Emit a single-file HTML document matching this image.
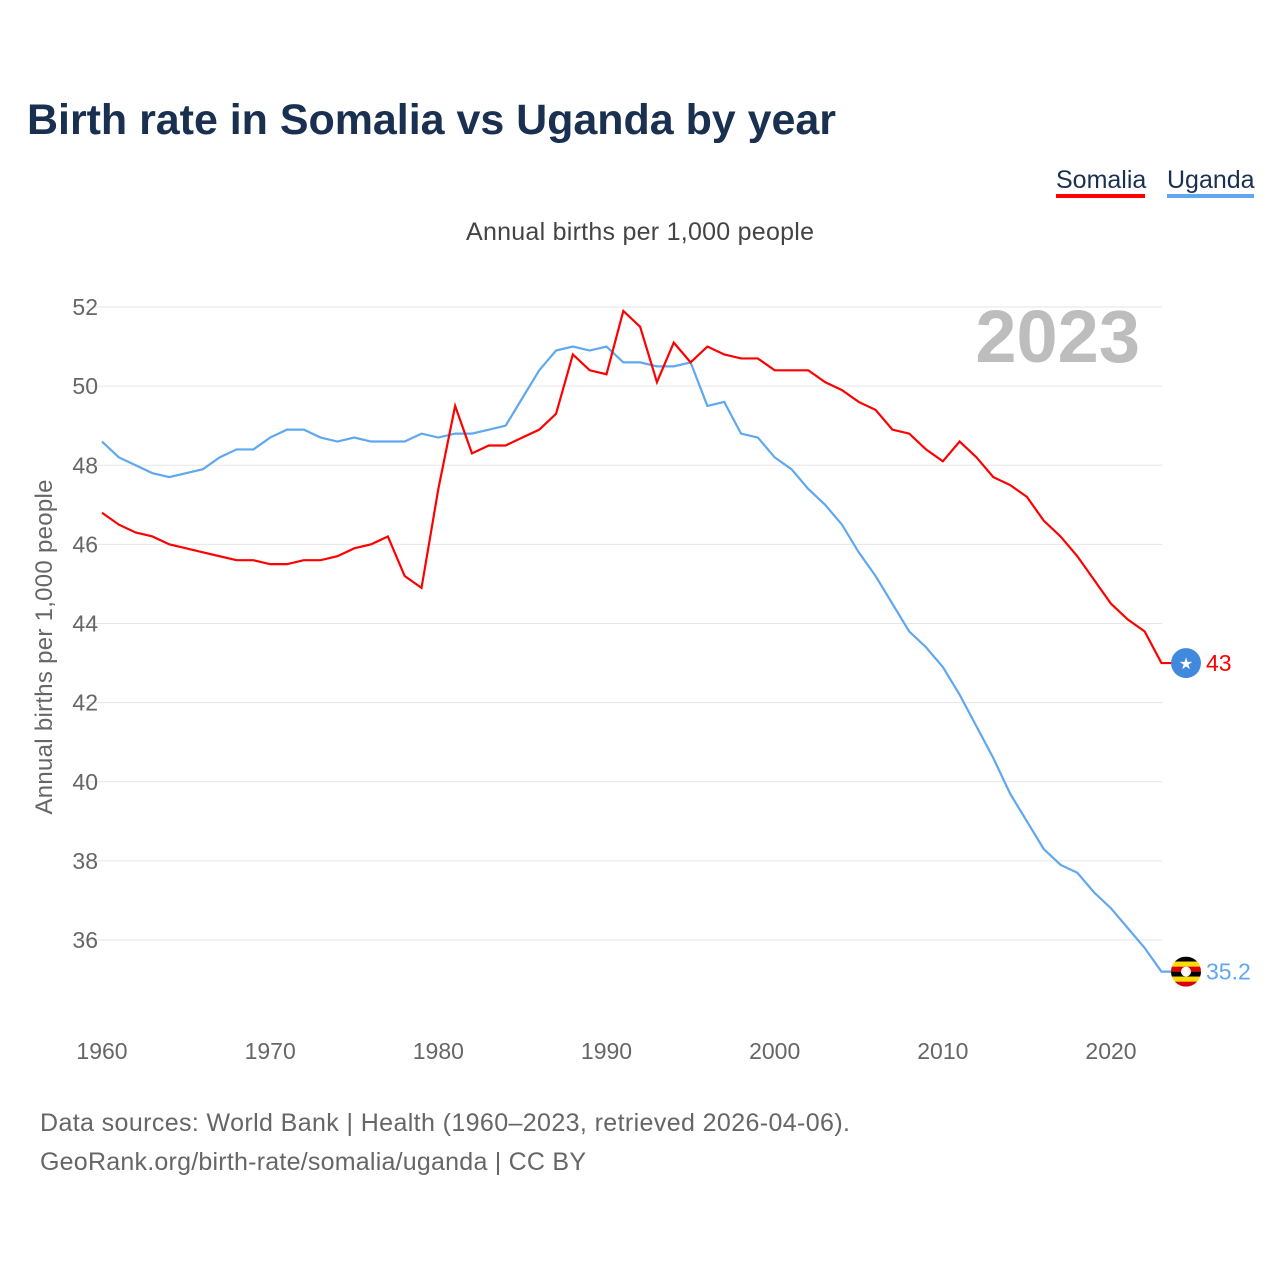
<!DOCTYPE html>
<html><head><meta charset="utf-8"><style>
body{margin:0;width:1280px;height:1280px;background:#fff;font-family:"Liberation Sans",sans-serif;overflow:hidden}
</style></head><body>
<svg id="chart" width="1280" height="1280" style="position:absolute;left:0;top:0">
<text x="27" y="134" font-size="43" font-weight="bold" fill="#1a3050" textLength="809">Birth rate in Somalia vs Uganda by year</text>
<g>
<text x="1056" y="188" font-size="25" fill="#1a3050">Somalia</text>
<rect x="1056" y="194" width="89" height="4" fill="#ff0000"/>
<text x="1167" y="188" font-size="25" fill="#1a3050">Uganda</text>
<rect x="1167" y="194" width="87" height="4" fill="#5fa8f0"/>
</g>
<text x="640" y="240" font-size="25" fill="#444" text-anchor="middle" textLength="348">Annual births per 1,000 people</text>
<text x="1140" y="362" font-size="74" font-weight="bold" fill="#bdbdbd" text-anchor="end">2023</text>
<text transform="translate(52,647) rotate(-90)" font-size="24" fill="#666" text-anchor="middle" textLength="335">Annual births per 1,000 people</text>
<g id="grid"></g><g id="xt"></g><g id="lines"></g><g id="ends"></g>
<text x="40" y="1131" font-size="25" fill="#666" textLength="810">Data sources: World Bank | Health (1960–2023, retrieved 2026-04-06).</text>
<text x="40" y="1170" font-size="25" fill="#666" textLength="546">GeoRank.org/birth-rate/somalia/uganda | CC BY</text>
</svg>
<script>
const years=[];for(let y=1960;y<=2023;y++)years.push(y);
const somalia=[46.8,46.5,46.3,46.2,46.0,45.9,45.8,45.7,45.6,45.6,45.5,45.5,45.6,45.6,45.7,45.9,46.0,46.2,45.2,44.9,47.4,49.5,48.3,48.5,48.5,48.7,48.9,49.3,50.8,50.4,50.3,51.9,51.5,50.1,51.1,50.6,51.0,50.8,50.7,50.7,50.4,50.4,50.4,50.1,49.9,49.6,49.4,48.9,48.8,48.4,48.1,48.6,48.2,47.7,47.5,47.2,46.6,46.2,45.7,45.1,44.5,44.1,43.8,43.0];
const uganda=[48.6,48.2,48.0,47.8,47.7,47.8,47.9,48.2,48.4,48.4,48.7,48.9,48.9,48.7,48.6,48.7,48.6,48.6,48.6,48.8,48.7,48.8,48.8,48.9,49.0,49.7,50.4,50.9,51.0,50.9,51.0,50.6,50.6,50.5,50.5,50.6,49.5,49.6,48.8,48.7,48.2,47.9,47.4,47.0,46.5,45.8,45.2,44.5,43.8,43.4,42.9,42.2,41.4,40.6,39.7,39.0,38.3,37.9,37.7,37.2,36.8,36.3,35.8,35.2];
const yTicks=[36,38,40,42,44,46,48,50,52];
const xTicks=[1960,1970,1980,1990,2000,2010,2020];
const X=y=>102+(y-1960)*1009/60, Y=v=>940-(v-36)*633/16;
const NS="http://www.w3.org/2000/svg";
function mk(t,a,p){const e=document.createElementNS(NS,t);for(const k in a)e.setAttribute(k,a[k]);p.appendChild(e);return e;}
const grid=document.getElementById('grid');
yTicks.forEach(v=>{
 const l=mk('line',{x1:82,x2:1162,y1:Y(v),y2:Y(v),stroke:'#e6e6e6','stroke-width':1},grid);
 
 
 const t=mk('text',{x:98,y:Y(v)+8,'font-size':23,fill:'#666','text-anchor':'end'},grid);t.textContent=v;
 
 
});
const xt=document.getElementById('xt');
xTicks.forEach(v=>{
 const t=mk('text',{x:X(v),y:1059,'font-size':23,fill:'#666','text-anchor':'middle'},xt);t.textContent=v;
 
 
});
const lines=document.getElementById('lines');
[[uganda,'#5fa8f0','uganda-line'],[somalia,'#ff0000','somalia-line']].forEach(([d,c,n])=>{
 const pts=d.map((v,i)=>X(years[i])+','+Y(v));
 pts.push((X(years[years.length-1])+10)+','+Y(d[d.length-1]));
 const p=mk('polyline',{points:pts.join(' '),fill:'none',stroke:c,'stroke-width':2.2},lines);
 
 
});
const ends=document.getElementById('ends');
const ls=years.length-1;
const sy=Y(somalia[ls]),uy=Y(uganda[ls]);
let c=mk('circle',{cx:1186,cy:sy,r:15,fill:'#4189dd'},ends);


let s=mk('text',{x:1186,y:sy+6,'font-size':16,fill:'#fff','text-anchor':'middle'},ends);s.textContent='★';
let lab=mk('text',{x:1206,y:sy+8,'font-size':23,fill:'#ff0000'},ends);lab.textContent=somalia[ls];


const cols=['#000','#fcdc04','#d90000','#000','#fcdc04','#d90000'];
const g=mk('g',{},ends);


mk('clipPath',{id:'cp'},g).appendChild(document.createElementNS(NS,'circle'));
const cc=g.querySelector('clipPath circle');cc.setAttribute('cx',1186);cc.setAttribute('cy',uy);cc.setAttribute('r',15);
cols.forEach((col,i)=>mk('rect',{x:1171,y:uy-15+i*5,width:30,height:5,fill:col,'clip-path':'url(#cp)'},g));
mk('circle',{cx:1186,cy:uy,r:5,fill:'#fff'},g);
let lab2=mk('text',{x:1206,y:uy+8,'font-size':23,fill:'#5fa8f0'},ends);lab2.textContent=uganda[ls];


</script>
</body></html>
